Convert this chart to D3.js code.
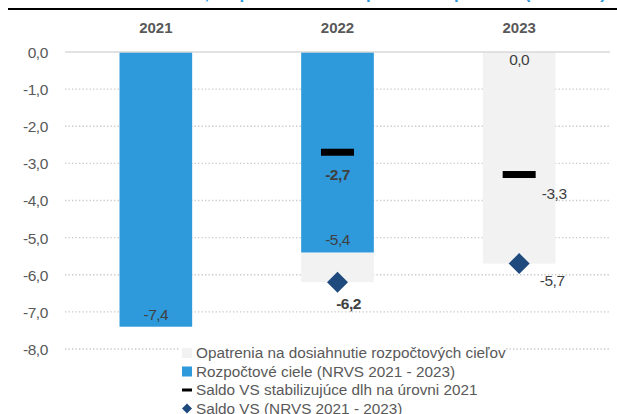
<!DOCTYPE html>
<html><head><meta charset="utf-8">
<script src="https://cdn.jsdelivr.net/npm/d3@7/dist/d3.min.js"></script>
<style>body{margin:0;background:#fff}svg{display:block;font-family:"Liberation Sans",Arial,sans-serif}</style>
</head><body><svg id="c" width="617" height="414"></svg>
<script>
const years = ["2021", "2022", "2023"];
const ciele = [-7.4, -5.4, 0.0];          // Rozpočtové ciele (NRVS 2021 - 2023)
const opatrenia = [0, -0.8, -5.7];        // Opatrenia (stacked below ciele)
const stabil = [null, -2.7, -3.3];        // Saldo VS stabilizujúce dlh na úrovni 2021
const saldo = [null, -6.2, -5.7];         // Saldo VS (NRVS 2021 - 2023)
const yTicks = [0, -1, -2, -3, -4, -5, -6, -7, -8];
const legendLabels = ["Opatrenia na dosiahnutie rozpočtových cieľov", "Rozpočtové ciele (NRVS 2021 - 2023)", "Saldo VS stabilizujúce dlh na úrovni 2021", "Saldo VS (NRVS 2021 - 2023)"];
const title = "Saldo VS, rozpočtové ciele a potrebné opatrenia (v % HDP)";

const BLUE = "#2E9ADC", GREY = "#F2F2F2", DIA = "#1F4A7E", TXT = "#404040";
const svg = d3.select("#c");
const fmt = v => d3.format(".1f")(v).replace(".", ",").replace("−", "-");

const x = d3.scaleBand().domain(years).range([65, 610]).paddingInner(0.6).paddingOuter(0.3);
const y = d3.scaleLinear().domain([-8, 0]).range([349, 52]);

// title (cut off at top, as in the source) and rule
svg.append("text").attr("x", 606).attr("y", -1).attr("text-anchor", "end")
  .attr("font-size", 17).attr("font-weight", "bold").attr("fill", BLUE).text(title);
svg.append("line").attr("x1", 8).attr("x2", 617).attr("y1", 9).attr("y2", 9).attr("stroke", "#000").attr("stroke-width", 2);

// grid
svg.append("g").selectAll("line").data(yTicks.filter(d => d !== 0)).join("line")
  .attr("x1", 65).attr("x2", 610).attr("y1", d => y(d)).attr("y2", d => y(d))
  .attr("stroke", "#C8C8C8").attr("stroke-width", 1.3).attr("stroke-dasharray", "1.3,2.2");

// y axis labels
const ya = d3.axisLeft(y).tickValues(yTicks).tickFormat(fmt).tickSize(0).tickPadding(0);
const yg = svg.append("g").attr("transform", "translate(48,0)").call(ya);
yg.select(".domain").remove();
yg.selectAll("text").attr("font-size", 15.5).attr("fill", "#595959").attr("letter-spacing", -0.4)
  .attr("font-family", "Liberation Sans, Arial, sans-serif").attr("dy", "0.35em");

// year labels
svg.append("g").selectAll("text").data(years).join("text")
  .attr("x", d => x(d) + x.bandwidth() / 2).attr("y", 33).attr("text-anchor", "middle")
  .attr("font-size", 15).attr("font-weight", "bold").attr("fill", "#595959").text(d => d);

// bars
const bw = x.bandwidth();
svg.append("g").selectAll("rect").data(years).join("rect")
  .attr("x", d => x(d)).attr("width", bw)
  .attr("y", (d, i) => y(ciele[i]))
  .attr("height", (d, i) => y(ciele[i] + opatrenia[i]) - y(ciele[i]))
  .attr("fill", GREY);
svg.append("g").selectAll("rect").data(years).join("rect")
  .attr("x", d => x(d)).attr("width", bw)
  .attr("y", y(0)).attr("height", (d, i) => y(ciele[i]) - y(0))
  .attr("fill", BLUE);

// zero line
svg.append("line").attr("x1", 65).attr("x2", 610).attr("y1", y(0)).attr("y2", y(0)).attr("stroke", "#D9D9D9").attr("stroke-width", 1.5);

// ciele labels
svg.append("g").selectAll("text").data(years).join("text")
  .attr("x", d => x(d) + bw / 2).attr("y", (d, i) => ciele[i] === 0 ? y(0) + 8 : y(ciele[i]) - 7)
  .attr("dy", (d, i) => ciele[i] === 0 ? "0.35em" : 0)
  .attr("text-anchor", "middle").attr("font-size", 15.5).attr("fill", TXT).attr("letter-spacing", -0.5)
  .text((d, i) => fmt(ciele[i]));

// stabil markers
const stabPts = years.map((d, i) => ({ d, v: stabil[i] })).filter(p => p.v !== null);
const stabLbl = { "2022": { dx: 0, dy: 22, bold: true }, "2023": { dx: 35, dy: 19, bold: false } };
svg.append("g").selectAll("rect").data(stabPts).join("rect")
  .attr("x", p => x(p.d) + bw / 2 - 16.5).attr("y", p => y(p.v) - 3.5)
  .attr("width", 33).attr("height", 7).attr("fill", "#000");
svg.append("g").selectAll("text").data(stabPts).join("text")
  .attr("x", p => x(p.d) + bw / 2 + stabLbl[p.d].dx).attr("y", p => y(p.v) + stabLbl[p.d].dy)
  .attr("dy", "0.35em").attr("text-anchor", "middle").attr("font-size", 15.5).attr("letter-spacing", -0.5)
  .attr("font-weight", p => stabLbl[p.d].bold ? "bold" : "normal").attr("fill", TXT).text(p => fmt(p.v));

// saldo diamonds
const salPts = years.map((d, i) => ({ d, v: saldo[i] })).filter(p => p.v !== null);
const salLbl = { "2022": { dx: 11, dy: 21, bold: true }, "2023": { dx: 33, dy: 17, bold: false } };
svg.append("g").selectAll("path").data(salPts).join("path")
  .attr("d", "M0,-10.5L10.5,0L0,10.5L-10.5,0Z")
  .attr("transform", p => `translate(${x(p.d) + bw / 2},${y(p.v)})`).attr("fill", DIA);
svg.append("g").selectAll("text").data(salPts).join("text")
  .attr("x", p => x(p.d) + bw / 2 + salLbl[p.d].dx).attr("y", p => y(p.v) + salLbl[p.d].dy)
  .attr("dy", "0.35em").attr("text-anchor", "middle").attr("font-size", 15.5).attr("letter-spacing", -0.5)
  .attr("font-weight", p => salLbl[p.d].bold ? "bold" : "normal").attr("fill", TXT).text(p => fmt(p.v));

// legend
const lg = svg.append("g");
lg.append("rect").attr("x", 180).attr("y", 343).attr("width", 326).attr("height", 71).attr("fill", "#fff");
const rowY = [353, 371.5, 390, 408.5];
const items = lg.selectAll("g").data(legendLabels).join("g").attr("transform", (d, i) => `translate(0,${rowY[i]})`);
items.append("text").attr("x", 196).attr("dy", "0.35em").attr("font-size", 15.3).attr("fill", "#595959").text(d => d);
items.filter((d, i) => i === 0).append("rect").attr("x", 182).attr("y", -5).attr("width", 10).attr("height", 10).attr("fill", GREY);
items.filter((d, i) => i === 1).append("rect").attr("x", 182).attr("y", -5).attr("width", 10).attr("height", 10).attr("fill", BLUE);
items.filter((d, i) => i === 2).append("rect").attr("x", 182).attr("y", -1.5).attr("width", 10).attr("height", 3).attr("fill", "#000");
items.filter((d, i) => i === 3).append("path").attr("d", "M187,-5L192,0L187,5L182,0Z").attr("fill", DIA);
</script></body></html>
